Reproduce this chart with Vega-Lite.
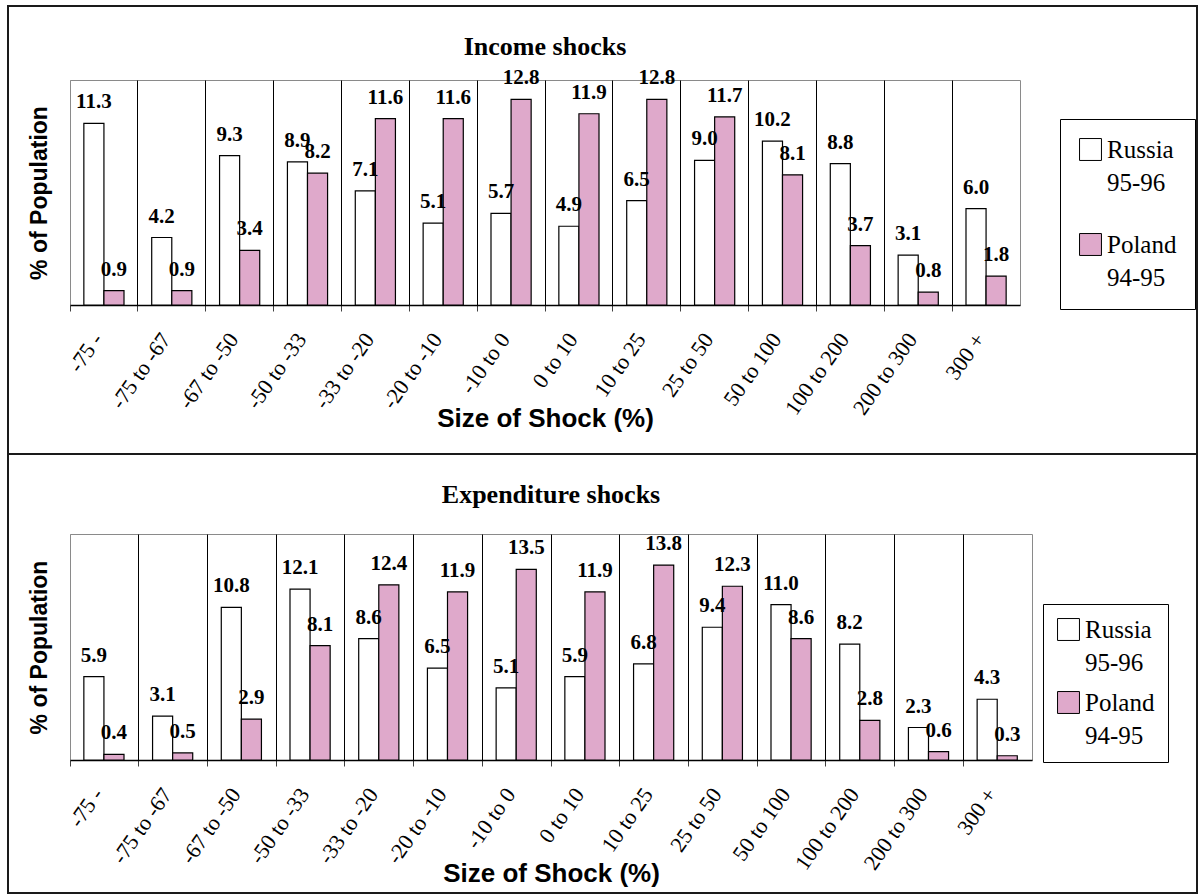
{
  "$schema": "https://vega.github.io/schema/vega-lite/v6.json",
  "background": "white",
  "padding": {"left": 7, "top": 5, "right": 0, "bottom": 0},
  "datasets": {
    "income": [
      {"shock": "-75 -", "series": "Russia 95-96", "pct": 11.3},
      {"shock": "-75 -", "series": "Poland 94-95", "pct": 0.9},
      {"shock": "-75 to -67", "series": "Russia 95-96", "pct": 4.2},
      {"shock": "-75 to -67", "series": "Poland 94-95", "pct": 0.9},
      {"shock": "-67 to -50", "series": "Russia 95-96", "pct": 9.3},
      {"shock": "-67 to -50", "series": "Poland 94-95", "pct": 3.4},
      {"shock": "-50 to -33", "series": "Russia 95-96", "pct": 8.9},
      {"shock": "-50 to -33", "series": "Poland 94-95", "pct": 8.2},
      {"shock": "-33 to -20", "series": "Russia 95-96", "pct": 7.1},
      {"shock": "-33 to -20", "series": "Poland 94-95", "pct": 11.6},
      {"shock": "-20 to -10", "series": "Russia 95-96", "pct": 5.1},
      {"shock": "-20 to -10", "series": "Poland 94-95", "pct": 11.6},
      {"shock": "-10 to 0", "series": "Russia 95-96", "pct": 5.7},
      {"shock": "-10 to 0", "series": "Poland 94-95", "pct": 12.8},
      {"shock": "0 to 10", "series": "Russia 95-96", "pct": 4.9},
      {"shock": "0 to 10", "series": "Poland 94-95", "pct": 11.9},
      {"shock": "10 to 25", "series": "Russia 95-96", "pct": 6.5},
      {"shock": "10 to 25", "series": "Poland 94-95", "pct": 12.8},
      {"shock": "25 to 50", "series": "Russia 95-96", "pct": 9.0},
      {"shock": "25 to 50", "series": "Poland 94-95", "pct": 11.7},
      {"shock": "50 to 100", "series": "Russia 95-96", "pct": 10.2},
      {"shock": "50 to 100", "series": "Poland 94-95", "pct": 8.1},
      {"shock": "100 to 200", "series": "Russia 95-96", "pct": 8.8},
      {"shock": "100 to 200", "series": "Poland 94-95", "pct": 3.7},
      {"shock": "200 to 300", "series": "Russia 95-96", "pct": 3.1},
      {"shock": "200 to 300", "series": "Poland 94-95", "pct": 0.8},
      {"shock": "300 +", "series": "Russia 95-96", "pct": 6.0},
      {"shock": "300 +", "series": "Poland 94-95", "pct": 1.8}
    ],
    "expenditure": [
      {"shock": "-75 -", "series": "Russia 95-96", "pct": 5.9},
      {"shock": "-75 -", "series": "Poland 94-95", "pct": 0.4},
      {"shock": "-75 to -67", "series": "Russia 95-96", "pct": 3.1},
      {"shock": "-75 to -67", "series": "Poland 94-95", "pct": 0.5},
      {"shock": "-67 to -50", "series": "Russia 95-96", "pct": 10.8},
      {"shock": "-67 to -50", "series": "Poland 94-95", "pct": 2.9},
      {"shock": "-50 to -33", "series": "Russia 95-96", "pct": 12.1},
      {"shock": "-50 to -33", "series": "Poland 94-95", "pct": 8.1},
      {"shock": "-33 to -20", "series": "Russia 95-96", "pct": 8.6},
      {"shock": "-33 to -20", "series": "Poland 94-95", "pct": 12.4},
      {"shock": "-20 to -10", "series": "Russia 95-96", "pct": 6.5},
      {"shock": "-20 to -10", "series": "Poland 94-95", "pct": 11.9},
      {"shock": "-10 to 0", "series": "Russia 95-96", "pct": 5.1},
      {"shock": "-10 to 0", "series": "Poland 94-95", "pct": 13.5},
      {"shock": "0 to 10", "series": "Russia 95-96", "pct": 5.9},
      {"shock": "0 to 10", "series": "Poland 94-95", "pct": 11.9},
      {"shock": "10 to 25", "series": "Russia 95-96", "pct": 6.8},
      {"shock": "10 to 25", "series": "Poland 94-95", "pct": 13.8},
      {"shock": "25 to 50", "series": "Russia 95-96", "pct": 9.4},
      {"shock": "25 to 50", "series": "Poland 94-95", "pct": 12.3},
      {"shock": "50 to 100", "series": "Russia 95-96", "pct": 11.0},
      {"shock": "50 to 100", "series": "Poland 94-95", "pct": 8.6},
      {"shock": "100 to 200", "series": "Russia 95-96", "pct": 8.2},
      {"shock": "100 to 200", "series": "Poland 94-95", "pct": 2.8},
      {"shock": "200 to 300", "series": "Russia 95-96", "pct": 2.3},
      {"shock": "200 to 300", "series": "Poland 94-95", "pct": 0.6},
      {"shock": "300 +", "series": "Russia 95-96", "pct": 4.3},
      {"shock": "300 +", "series": "Poland 94-95", "pct": 0.3}
    ]
  },
  "config": {
    "view": {"stroke": "#8a8a8a", "strokeWidth": 1},
    "axis": {"labelColor": "black", "titleColor": "black"}
  },
  "concat": [
    {
      "data": {"name": "income"},
      "width": 950,
      "height": 225,
      "title": {"text": "Income shocks", "font": "Liberation Serif", "fontSize": 26, "fontWeight": "bold", "color": "black", "offset": -54, "anchor": "middle"},
      "encoding": {
        "x": {
          "field": "shock", "type": "nominal",
          "sort": ["-75 -", "-75 to -67", "-67 to -50", "-50 to -33", "-33 to -20", "-20 to -10", "-10 to 0", "0 to 10", "10 to 25", "25 to 50", "50 to 100", "100 to 200", "200 to 300", "300 +"],
          "scale": {"paddingInner": 0, "paddingOuter": 0},
          "title": "Size of Shock (%)",
          "axis": {
            "bandPosition": 0, "labelOffset": -6, "labelAngle": -55, "labelAlign": "right", "labelBaseline": "middle",
            "labelFont": "Liberation Serif", "labelFontSize": 22, "labelPadding": 24,
            "tickSize": 6, "tickColor": "#404040", "domainColor": "black", "domainWidth": 1.5,
            "grid": true, "gridColor": {"condition": {"test": "datum.value === '-75 -'", "value": "#8a8a8a"}, "value": "black"}, "gridOpacity": 1,
            "titleFont": "Liberation Sans", "titleFontSize": 26, "titleFontWeight": "bold", "titlePadding": -13
          }
        },
        "xOffset": {"field": "series", "type": "nominal", "sort": ["Russia 95-96", "Poland 94-95"], "scale": {"paddingInner": 0, "paddingOuter": 0.69}},
        "y": {
          "field": "pct", "type": "quantitative",
          "scale": {"domain": [0, 14], "nice": false},
          "title": "% of Population",
          "axis": {"labels": false, "ticks": false, "domain": false, "grid": false, "titleFont": "Liberation Sans", "titleFontSize": 23, "titleFontWeight": "bold", "titlePadding": 19}
        }
      },
      "layer": [
        {
          "mark": {"type": "bar", "stroke": "black", "strokeWidth": 1.2},
          "encoding": {
            "fill": {
              "field": "series", "type": "nominal",
              "scale": {"domain": ["Russia 95-96", "Poland 94-95"], "range": ["white", "#dfa9cb"]},
              "legend": {
                "orient": "none", "legendX": 990, "legendY": 39, "title": null,
                "labelExpr": "split(datum.label, ' ')",
                "labelFont": "Liberation Serif", "labelFontSize": 25, "labelColor": "black", "labelOffset": 4, "labelBaseline": "middle",
                "symbolType": "square", "symbolSize": 480, "symbolStrokeColor": "black", "symbolStrokeWidth": 1,
                "strokeColor": "black", "fillColor": "white", "padding": 18, "rowPadding": 35,
                "encode": {"labels": {"update": {"lineHeight": {"value": 33}}}}
              }
            }
          }
        },
        {
          "mark": {"type": "text", "font": "Liberation Serif", "fontSize": 21, "fontWeight": "bold", "baseline": "bottom", "dy": -11, "color": "black"},
          "encoding": {
            "text": {"field": "pct", "type": "quantitative", "format": ".1f"},
            "stroke": {
              "field": "pct", "type": "quantitative",
              "scale": {"range": ["rgba(0,0,0,0)", "rgba(0,0,0,0)"]},
              "legend": {
                "type": "gradient", "direction": "horizontal", "orient": "none", "legendX": -62, "legendY": -74,
                "gradientLength": 1189, "gradientThickness": 448, "gradientStrokeColor": "#1a1a1a", "gradientStrokeWidth": 2,
                "title": null, "labelExpr": "''", "labelOpacity": 0, "tickCount": 2, "padding": 0
              }
            }
          }
        }
      ]
    },
    {
      "data": {"name": "expenditure"},
      "width": 962,
      "height": 226,
      "title": {"text": "Expenditure shocks", "font": "Liberation Serif", "fontSize": 26, "fontWeight": "bold", "color": "black", "offset": -54, "anchor": "middle"},
      "encoding": {
        "x": {
          "field": "shock", "type": "nominal",
          "sort": ["-75 -", "-75 to -67", "-67 to -50", "-50 to -33", "-33 to -20", "-20 to -10", "-10 to 0", "0 to 10", "10 to 25", "25 to 50", "50 to 100", "100 to 200", "200 to 300", "300 +"],
          "scale": {"paddingInner": 0, "paddingOuter": 0},
          "title": "Size of Shock (%)",
          "axis": {
            "bandPosition": 0, "labelOffset": -6, "labelAngle": -55, "labelAlign": "right", "labelBaseline": "middle",
            "labelFont": "Liberation Serif", "labelFontSize": 22, "labelPadding": 24,
            "tickSize": 6, "tickColor": "#404040", "domainColor": "black", "domainWidth": 1.5,
            "grid": true, "gridColor": {"condition": {"test": "datum.value === '-75 -'", "value": "#8a8a8a"}, "value": "black"}, "gridOpacity": 1,
            "titleFont": "Liberation Sans", "titleFontSize": 26, "titleFontWeight": "bold", "titlePadding": -13
          }
        },
        "xOffset": {"field": "series", "type": "nominal", "sort": ["Russia 95-96", "Poland 94-95"], "scale": {"paddingInner": 0, "paddingOuter": 0.69}},
        "y": {
          "field": "pct", "type": "quantitative",
          "scale": {"domain": [0, 16], "nice": false},
          "title": "% of Population",
          "axis": {"labels": false, "ticks": false, "domain": false, "grid": false, "titleFont": "Liberation Sans", "titleFontSize": 23, "titleFontWeight": "bold", "titlePadding": 19}
        }
      },
      "layer": [
        {
          "mark": {"type": "bar", "stroke": "black", "strokeWidth": 1.2},
          "encoding": {
            "fill": {
              "field": "series", "type": "nominal",
              "scale": {"domain": ["Russia 95-96", "Poland 94-95"], "range": ["white", "#dfa9cb"]},
              "legend": {
                "orient": "none", "legendX": 973, "legendY": 70, "title": null,
                "labelExpr": "split(datum.label, ' ')",
                "labelFont": "Liberation Serif", "labelFontSize": 25, "labelColor": "black", "labelOffset": 4, "labelBaseline": "middle",
                "symbolType": "square", "symbolSize": 480, "symbolStrokeColor": "black", "symbolStrokeWidth": 1,
                "strokeColor": "black", "fillColor": "white", "padding": 13, "rowPadding": 13,
                "encode": {"labels": {"update": {"lineHeight": {"value": 33}}}}
              }
            }
          }
        },
        {
          "mark": {"type": "text", "font": "Liberation Serif", "fontSize": 21, "fontWeight": "bold", "baseline": "bottom", "dy": -11, "color": "black"},
          "encoding": {
            "text": {"field": "pct", "type": "quantitative", "format": ".1f"},
            "stroke": {
              "field": "pct", "type": "quantitative",
              "scale": {"range": ["rgba(0,0,0,0)", "rgba(0,0,0,0)"]},
              "legend": {
                "type": "gradient", "direction": "horizontal", "orient": "none", "legendX": -62, "legendY": -80,
                "gradientLength": 1189, "gradientThickness": 439, "gradientStrokeColor": "#1a1a1a", "gradientStrokeWidth": 2,
                "title": null, "labelExpr": "''", "labelOpacity": 0, "tickCount": 2, "padding": 0
              }
            }
          }
        }
      ]
    }
  ],
  "columns": 1,
  "align": "none",
  "spacing": -14,
  "resolve": {"scale": {"fill": "independent", "stroke": "independent"}, "legend": {"fill": "independent", "stroke": "independent"}}
}
